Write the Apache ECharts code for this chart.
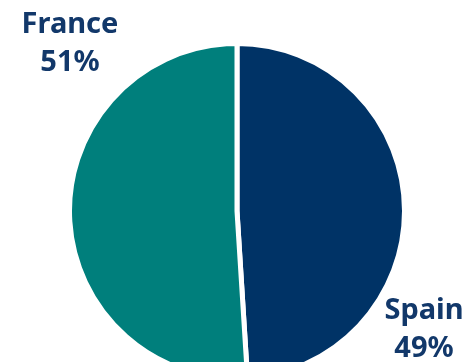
<!DOCTYPE html>
<html>
<head>
<meta charset="utf-8">
<script src="https://cdn.jsdelivr.net/npm/echarts@6/dist/echarts.min.js"></script>
<style>
  html, body { margin: 0; padding: 0; background: #ffffff; }
  #chart { width: 467px; height: 362px; }
</style>
</head>
<body>
<div id="chart"></div>
<script>
// Share of the total by country, drawn clockwise from 12 o'clock
const countries = ['Spain', 'France'];
const shares = [49, 51];
const sliceColors = ['#003366', '#007f7c'];

// Where each country's label sits on the canvas
const labelSpots = {
  Spain: { x: 424, y: 330 },
  France: { x: 70, y: 44 }
};

const chart = echarts.init(document.getElementById('chart'), null, { renderer: 'canvas' });

chart.setOption({
  animation: false,
  backgroundColor: '#ffffff',
  series: [{
    type: 'pie',
    center: [237, 211],
    radius: [0, 167.5],
    startAngle: 90,
    clockwise: true,
    data: countries.map((name, i) => ({
      name: name,
      value: shares[i],
      itemStyle: { color: sliceColors[i] }
    })),
    itemStyle: { borderColor: '#ffffff', borderWidth: 5 },
    label: {
      show: true,
      position: 'inside',
      formatter: p => p.name + '\n' + p.value + '%',
      color: '#12386a',
      fontFamily: 'Noto Sans',
      fontWeight: 'bold',
      fontSize: 29,
      lineHeight: 38,
      align: 'center'
    },
    labelLine: { show: false },
    labelLayout: params => {
      const name = countries[params.dataIndex];
      const spot = labelSpots[name];
      return { x: spot.x, y: spot.y, align: 'center', verticalAlign: 'middle' };
    },
    emphasis: { disabled: true }
  }]
});
</script>
</body>
</html>
